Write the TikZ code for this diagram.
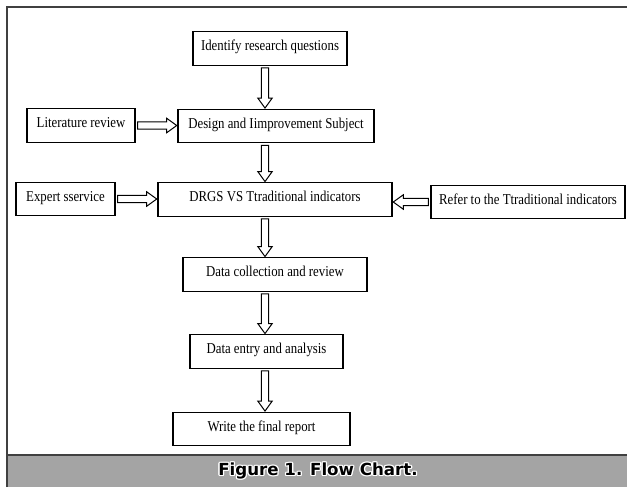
\documentclass[tikz,border=0pt]{standalone}
\usepackage{fontspec}
\setmainfont{Liberation Serif}[FakeStretch=0.85]
\newfontfamily\capfont{DejaVu Sans}
\usetikzlibrary{calc}

\definecolor{bandgray}{HTML}{A4A4A4}
\definecolor{framegray}{HTML}{404040}

\tikzset{
  stepbox/.style={draw, line width=0.9pt, minimum height=25pt, inner sep=2pt,
    text height=7.8pt, text depth=4.6pt, font=\fontsize{11.3}{13}\selectfont},
  flow/.style={line width=0.75pt, line join=miter,
    to path={let \p1=(\tikztostart), \p2=(\tikztotarget),
      \n1={atan2(\y2-\y1,\x2-\x1)}, \n2={veclen(\x2-\x1,\y2-\y1)} in
      [shift={(\p1)}, rotate=\n1]
      (1.5pt,-2.7pt) -- ({\n2*1pt-8pt},-2.7pt) -- ({\n2*1pt-8pt},-5.4pt)
      -- ({\n2*1pt-0.5pt},0pt) -- ({\n2*1pt-8pt},5.4pt) -- ({\n2*1pt-8pt},2.7pt)
      -- (1.5pt,2.7pt) -- cycle}},
  captext/.style={font=\capfont\bfseries\fontsize{12.5}{14}\selectfont},
}

\begin{document}
\begin{tikzpicture}[x=0.75pt, y=-0.75pt]
    \useasboundingbox (0,0) rectangle (627,487);
    % frame and caption band
    \fill[bandgray] (7,455) rectangle (627,487);
    \draw[framegray, line width=0.9pt] (7,487) -- (7,7) -- (627,7);
    \draw[framegray, line width=0.9pt] (7,455) -- (627,455);
    % white glow round the caption
    \foreach \dx/\dy in {1.3/0,-1.3/0,0/1.3,0/-1.3,1/1,1/-1,-1/1,-1/-1}
        \node[captext, white] at (318+\dx,471+\dy) {Figure 1. Flow Chart.};
    \node[captext] (caption) at (318,471) {Figure 1. Flow Chart.};

    % boxes
    \node[stepbox, minimum width=115.5pt] (quest) at (270,48.5) {Identify research questions};
    \node[stepbox, minimum width=81pt] (lit) at (81,125.5) {Literature review};
    \node[stepbox, minimum width=147pt] (design) at (276,126) {Design and Iimprovement Subject};
    \node[stepbox, minimum width=74.25pt] (expert) at (65.5,199) {Expert sservice};
    \node[stepbox, minimum width=175.5pt] (drgs) at (275,199.5) {DRGS VS Ttraditional indicators};
    \node[stepbox, minimum width=145.5pt] (refer) at (528,202) {Refer to the Ttraditional indicators};
    \node[stepbox, minimum width=138pt] (collect) at (275,274.5) {Data collection and review};
    \node[stepbox, minimum width=114.75pt] (entry) at (266.5,351.5) {Data entry and analysis};
    \node[stepbox, minimum width=132.75pt] (report) at (261.5,429) {Write the final report};

    \coordinate (axis) at (265,0);

    % main column
    \draw[flow] (quest.south -| axis) to (design.north -| axis);
    \draw[flow] (design.south -| axis) to (drgs.north -| axis);
    \draw[flow] (drgs.south -| axis) to (collect.north -| axis);
    \draw[flow] (collect.south -| axis) to (entry.north -| axis);
    \draw[flow] (entry.south -| axis) to (report.north -| axis);

    % side inputs
    \draw[flow] (lit.east) to (design.west |- lit.east);
    \draw[flow] (expert.east) to (drgs.west |- expert.east);
    \draw[flow] (refer.west) to (drgs.east |- refer.west);
\end{tikzpicture}
\end{document}
